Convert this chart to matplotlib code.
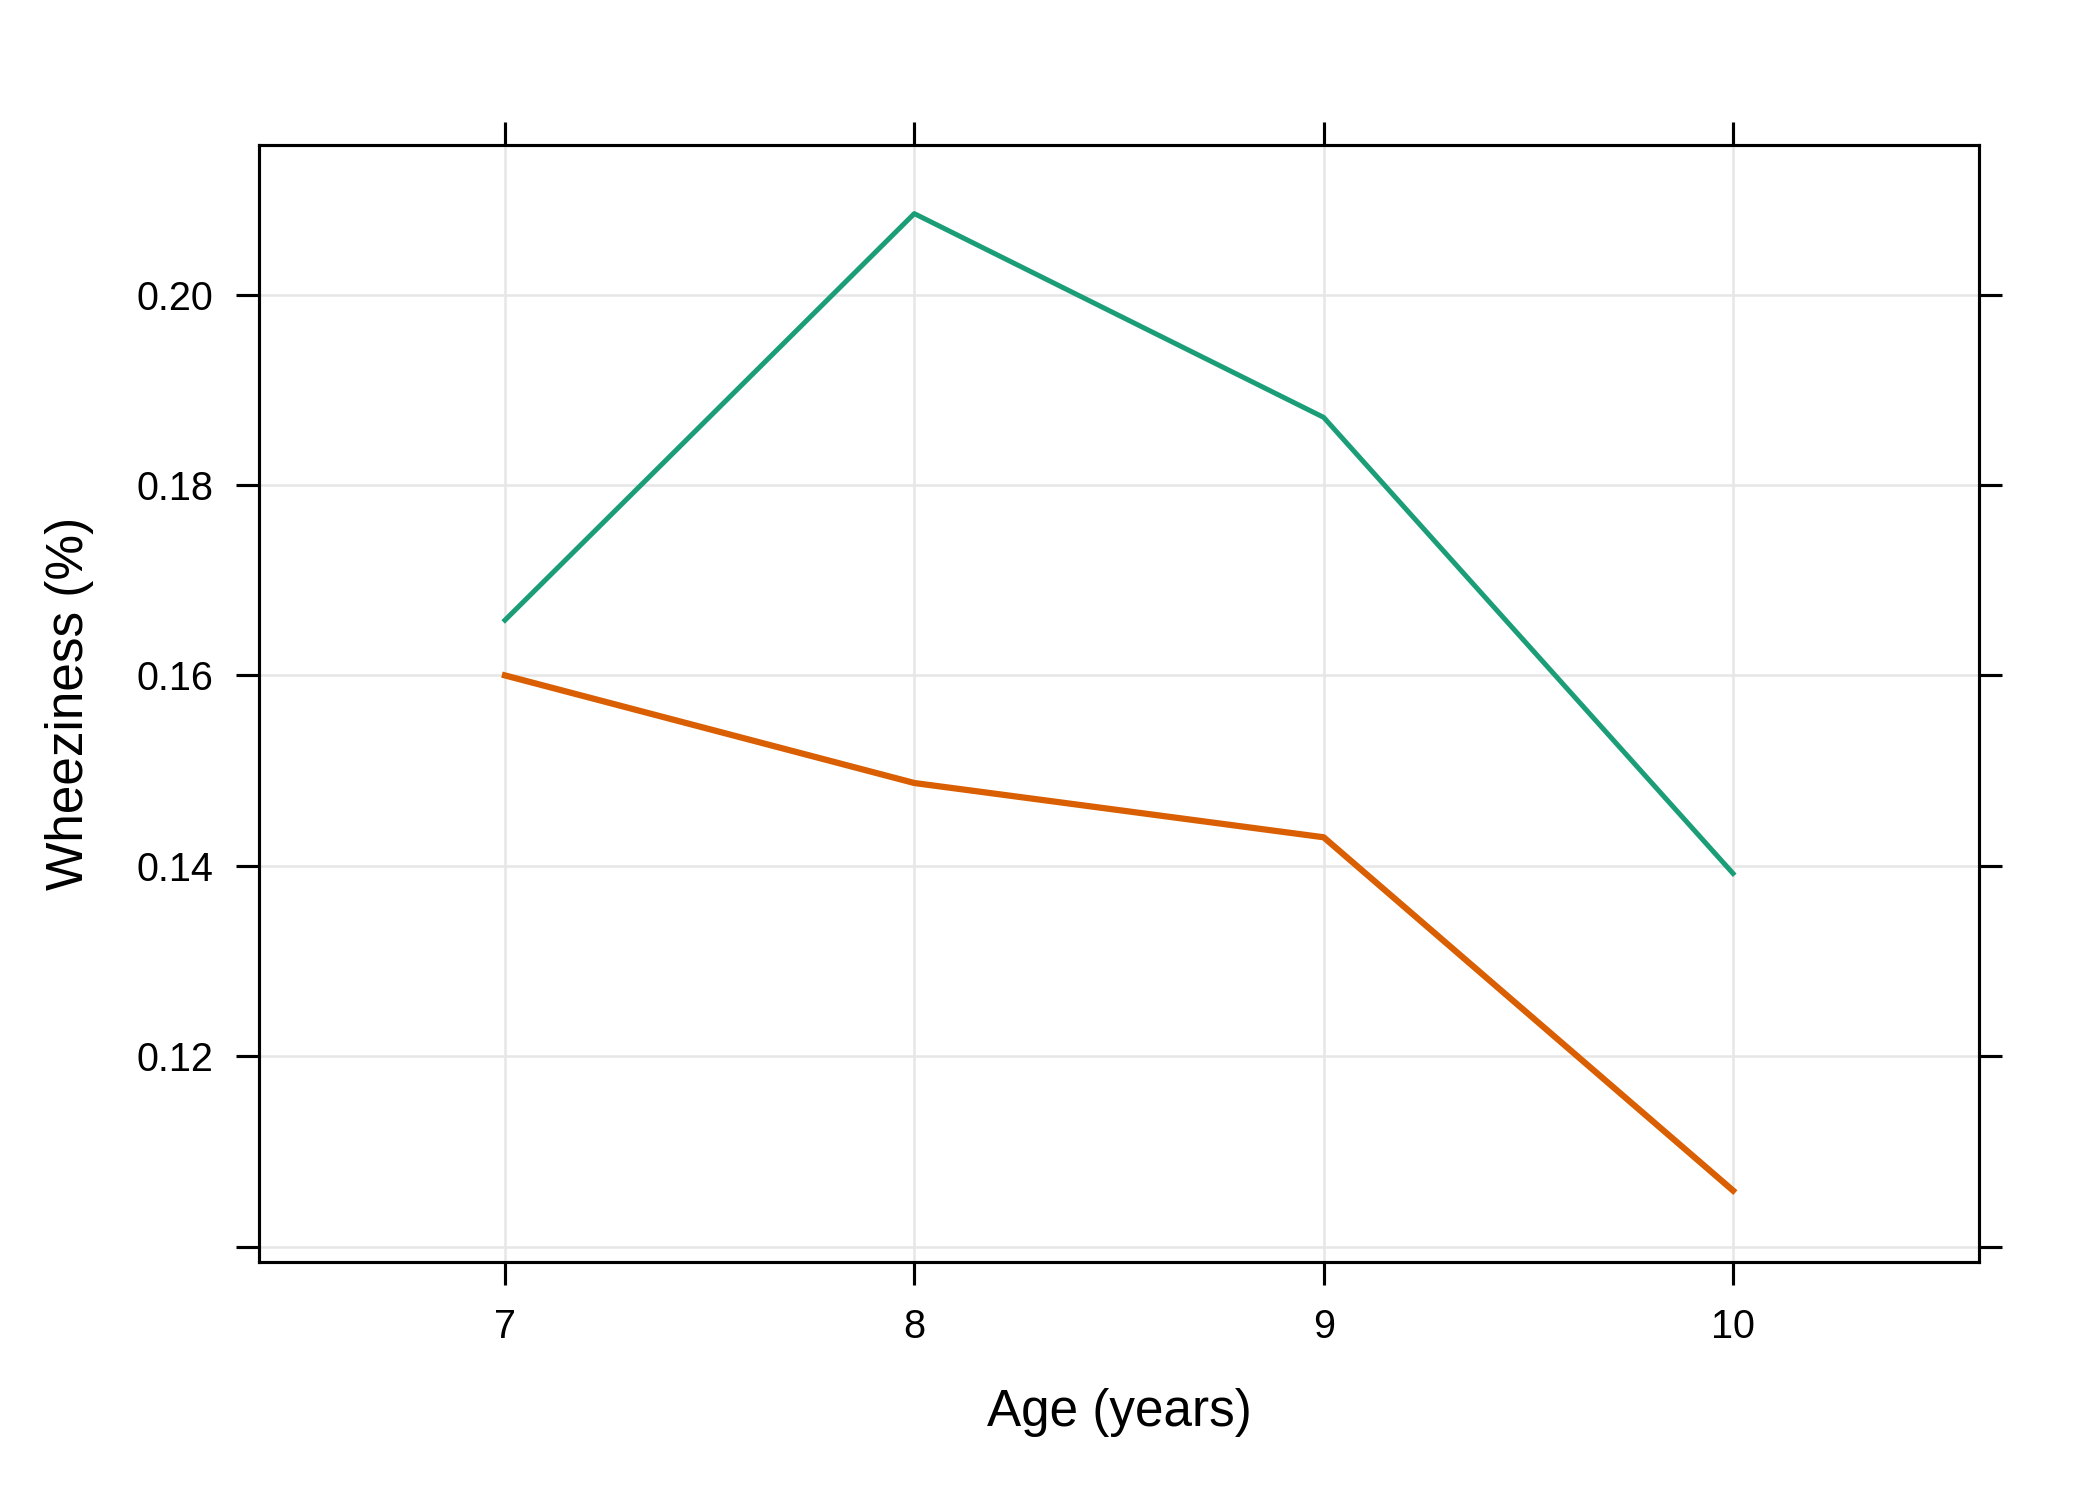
import matplotlib.pyplot as plt

plt.rcParams['font.family'] = ['Liberation Sans', 'DejaVu Sans']

ages = [7, 8, 9, 10]
wheeze_a = [0.1658, 0.2085, 0.1871, 0.1392]
wheeze_b = [0.1600, 0.1487, 0.1430, 0.1059]
y_ticks = [0.10, 0.12, 0.14, 0.16, 0.18, 0.20]
y_labels = ['', '0.12', '0.14', '0.16', '0.18', '0.20']

GREEN = '#1B9E77'
ORANGE = '#D95F02'


def main():
    fig = plt.figure(figsize=(7, 5), dpi=300)
    ax = fig.add_axes([0.1233, 0.1587, 0.8191, 0.7446])

    ax.plot(ages, wheeze_a, color=GREEN, lw=1.2, zorder=3)
    ax.plot(ages, wheeze_b, color=ORANGE, lw=1.5, zorder=3)

    ax.set_xlim(6.399, 10.601)
    ax.set_ylim(0.0984, 0.2157)
    ax.set_xticks(ages)
    ax.set_xticklabels([str(a) for a in ages])
    ax.set_yticks(y_ticks)
    ax.set_yticklabels(y_labels)

    ax.grid(True, color='#E6E6E6', lw=0.6, zorder=0)
    ax.set_axisbelow(True)
    for s in ax.spines.values():
        s.set_linewidth(0.75)
        s.set_color('black')

    ax.tick_params(direction='out', length=5.5, width=0.75, labelsize=9.5,
                   top=True, right=True, labeltop=False, labelright=False,
                   pad=5.5)

    ax.set_xlabel('Age (years)', fontsize=12.3)
    ax.set_ylabel('Wheeziness (%)', fontsize=12.3)
    ax.xaxis.set_label_coords(0.5, -0.1128)
    ax.yaxis.set_label_coords(-0.0959, 0.5)

    fig.savefig('out.png', dpi=300)


if __name__ == '__main__':
    main()
